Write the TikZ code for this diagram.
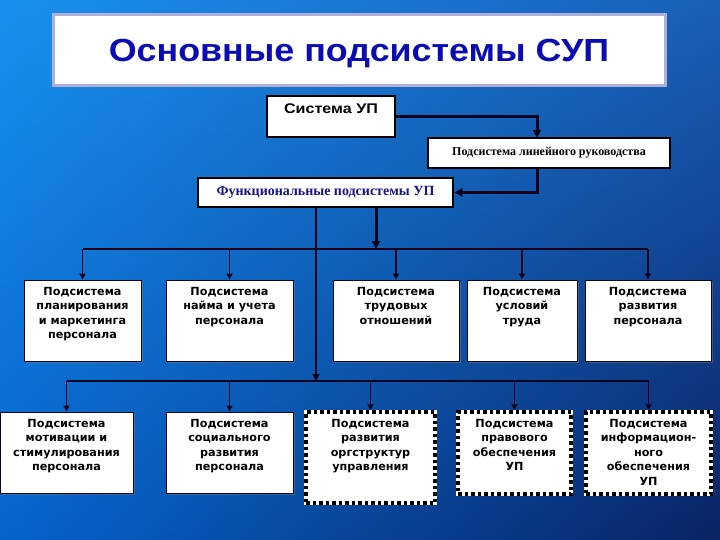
\documentclass[tikz,border=0pt]{standalone}
\usepackage{fontspec}
\setmainfont{Liberation Serif}
\newfontfamily\boxfont{DejaVu Sans}
\newfontfamily\arialf{Liberation Sans}
\usetikzlibrary{arrows.meta,shadows,shadings}
\definecolor{bgul}{RGB}{25,145,238}
\definecolor{bgur}{RGB}{25,95,185}
\definecolor{bgll}{RGB}{5,100,205}
\definecolor{bglr}{RGB}{10,35,100}
\definecolor{titleblue}{RGB}{12,12,180}
\definecolor{frame}{RGB}{175,175,215}
\definecolor{funcblue}{RGB}{20,20,130}
\definecolor{ink}{RGB}{5,5,30}
\newcommand\tb[3]{\parbox[c][#2][t]{#1}{\centering\vspace*{7pt}#3\par}}
\tikzset{
  box/.style={draw=ink, line width=1pt, fill=white, inner sep=0pt,
    font=\boxfont\bfseries\fontsize{11.2}{14.5}\selectfont,
    drop shadow={opacity=0.45, shadow xshift=1.5pt, shadow yshift=-1.5pt}},
  dbox/.style={fill=white, inner sep=0pt,
    font=\boxfont\bfseries\fontsize{11.2}{14.5}\selectfont,
    preaction={draw=white, line width=3.5pt, solid},
    draw=black, line width=3.5pt, dash pattern=on 3.5pt off 3pt},
  mbox/.style={draw=black, line width=2.5pt, fill=white, inner sep=0pt},
  thk/.style={draw=ink, line width=3pt, -{Triangle[length=8pt,width=8pt]}},
  thkb/.style={draw=ink, line width=2.5pt, -{Triangle[length=7pt,width=7pt]}},
  bus/.style={draw=ink, line width=1.3pt},
  drop/.style={draw=ink, line width=1.8pt, -{Triangle[length=6pt,width=6pt]}},
}
\begin{document}
\begin{tikzpicture}[x=1pt,y=-1pt]
\useasboundingbox (0,0) rectangle (720,540);
\shade[upper left=bgul, upper right=bgur, lower left=bgll, lower right=bglr] (0,0) rectangle (720,540);

% title
\node[fill=white, draw=frame, line width=3pt, minimum width=612pt, minimum height=71pt,
      text height=23pt, text depth=0pt,
      font=\arialf\bfseries\fontsize{32}{36}\selectfont, text=titleblue] (title) at (359,50.5)
      {\scalebox{1.12}[1]{Основные подсистемы СУП}};

% main chain
\node[mbox] (sys) at (331,116.5)
  {\parbox[c][41pt][t]{128pt}{\centering\vspace*{8pt}\arialf\bfseries\fontsize{14}{16}\selectfont\scalebox{1.15}[1]{Система УП}\par}};
\node[mbox, minimum width=242pt, minimum height=30pt, font=\bfseries\fontsize{12}{14}\selectfont] (lin) at (549,153)
  {Подсистема линейного руководства};
\node[mbox, minimum width=255pt, minimum height=29pt, font=\bfseries\fontsize{14}{16}\selectfont, text=funcblue] (func) at (325.5,192.5)
  {Функциональные подсистемы УП};

\coordinate (j1) at (537,138);
\coordinate (ub) at (376,249);
\coordinate (lb) at (316,381);

\draw[thk] (sys.east) -| (j1);
\draw[thk] (lin.south -| j1) |- (func.east);
\draw[thk] (func.south -| ub) -- (ub);
\draw[thkb] (func.south -| lb) -- (lb);

% upper row
\node[box] (u1) at (82.5,320.5) {\tb{117pt}{81pt}{Подсистема\\ планирования\\ и маркетинга\\ персонала}};
\node[box] (u2) at (229.5,320.5) {\tb{127pt}{81pt}{Подсистема\\ найма и учета\\ персонала}};
\node[box] (u3) at (396,320.5) {\tb{126pt}{81pt}{Подсистема\\ трудовых\\ отношений}};
\node[box] (u4) at (522,320.5) {\tb{110pt}{81pt}{Подсистема\\ условий\\ труда}};
\node[box] (u5) at (648,320.5) {\tb{126pt}{81pt}{Подсистема\\ развития\\ персонала}};

% lower row
\node[box] (l1) at (66.5,452.5) {\tb{133pt}{81pt}{Подсистема\\ мотивации и\\ стимулирования\\ персонала}};
\node[box] (l2) at (229.5,452.5) {\tb{127pt}{81pt}{Подсистема\\ социального\\ развития\\ персонала}};
\node[dbox] (l3) at (370.5,457.5) {\tb{129pt}{91pt}{Подсистема\\ развития\\ оргструктур\\ управления}};
\node[dbox] (l4) at (514.5,453) {\tb{113pt}{82pt}{Подсистема\\ правового\\ обеспечения\\ УП}};
\node[dbox] (l5) at (648.5,453) {\tb{125pt}{82pt}{Подсистема\\ информацион-\\ ного\\ обеспечения\\ УП}};

% buses
\draw[bus] (u1.north |- ub) -- (u5.north |- ub);
\foreach \n in {u1,u2,u3,u4,u5} \draw[drop] (\n.north |- ub) -- (\n.north);
\draw[bus] (l1.north |- lb) -- (l5.north |- lb);
\foreach \n in {l1,l2,l3,l4,l5} \draw[drop] (\n.north |- lb) -- (\n.north);
\end{tikzpicture}
\end{document}
